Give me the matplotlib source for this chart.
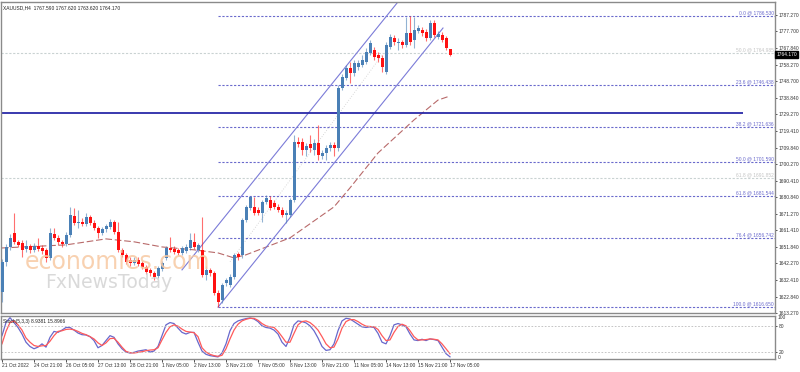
import numpy as np
import matplotlib.pyplot as plt
from matplotlib.transforms import blended_transform_factory

plt.rcParams['font.family'] = ['Liberation Sans Narrow', 'Liberation Sans', 'DejaVu Sans']

# header / symbol info
header_text = 'XAUUSD,H4  1767.590 1767.620 1763.620 1764.170'
stoch_text = 'Stoch(5,3,3) 8.9381 15.8966'
last_price = 1764.170

# H4 candles
opens = [
    1625.6, 1643.1, 1651.8, 1660.0, 1654.8, 1654.2, 1650.7, 1652.4, 1650.1, 1652.4,
    1651.3, 1650.1, 1645.4, 1659.4, 1657.1, 1654.8, 1653.6, 1658.8, 1669.9, 1665.8,
    1666.4, 1665.3, 1669.4, 1665.8, 1662.9, 1660.0, 1662.3, 1663.5, 1666.4, 1660.6,
    1650.1, 1647.2, 1644.2, 1642.5, 1644.2, 1642.5, 1640.2, 1638.4, 1636.7, 1634.9,
    1639.0, 1645.4, 1651.3, 1650.7, 1650.1, 1648.3, 1649.5, 1651.3, 1654.8, 1650.1,
    1650.1, 1635.5, 1638.4, 1636.7, 1625.0, 1620.9, 1630.8, 1629.7, 1634.3, 1647.7,
    1647.2, 1667.6, 1674.6, 1675.2, 1673.4, 1671.7, 1678.1, 1679.3, 1677.5, 1675.2,
    1673.4, 1670.5, 1670.5, 1679.3, 1713.1, 1713.1, 1708.5, 1712.0, 1708.5, 1712.6,
    1705.0, 1706.7, 1709.6, 1711.4, 1709.6, 1744.7, 1750.5, 1756.3, 1753.4, 1756.9,
    1758.1, 1759.8, 1765.1, 1766.8, 1763.9, 1762.2, 1754.0, 1768.6, 1773.9, 1770.9,
    1771.5, 1769.8, 1776.8, 1772.7, 1777.9, 1778.5, 1777.4, 1773.9, 1782.6, 1774.4,
    1775.6, 1773.9, 1767.59]
closes = [
    1643.1, 1651.8, 1657.1, 1654.8, 1653.0, 1650.1, 1652.4, 1650.1, 1652.4, 1650.7,
    1649.5, 1645.4, 1660.0, 1657.1, 1654.8, 1653.6, 1658.8, 1670.5, 1665.8, 1666.4,
    1665.3, 1669.4, 1665.8, 1662.9, 1660.0, 1662.3, 1664.1, 1666.4, 1660.6, 1650.1,
    1647.2, 1643.1, 1642.5, 1644.2, 1641.9, 1640.2, 1637.2, 1636.7, 1634.3, 1639.6,
    1642.5, 1651.3, 1650.1, 1648.9, 1648.3, 1651.3, 1651.8, 1655.9, 1651.8, 1653.0,
    1635.5, 1638.4, 1636.7, 1625.0, 1619.7, 1629.7, 1632.6, 1634.3, 1647.2, 1646.0,
    1667.6, 1675.2, 1681.0, 1671.7, 1671.7, 1678.1, 1680.4, 1674.6, 1675.2, 1673.4,
    1670.5, 1671.7, 1679.3, 1713.1, 1712.0, 1708.5, 1710.8, 1709.6, 1712.6, 1705.5,
    1706.7, 1709.6, 1711.4, 1709.6, 1744.7, 1751.1, 1756.3, 1753.4, 1759.3, 1759.3,
    1761.0, 1765.7, 1770.9, 1762.8, 1762.2, 1756.9, 1769.8, 1774.4, 1771.5, 1771.5,
    1769.8, 1776.8, 1771.5, 1778.5, 1779.7, 1776.8, 1773.9, 1782.6, 1775.6, 1776.2,
    1772.7, 1768.0, 1764.17]
highs = [
    1644.8, 1653.6, 1659.4, 1671.7, 1655.9, 1655.9, 1655.9, 1653.6, 1654.2, 1657.1,
    1653.0, 1651.3, 1662.9, 1662.9, 1658.8, 1655.9, 1660.6, 1675.2, 1674.6, 1673.4,
    1668.8, 1671.7, 1670.5, 1667.6, 1664.1, 1663.5, 1665.3, 1668.2, 1667.6, 1666.4,
    1651.3, 1648.3, 1646.0, 1646.0, 1646.0, 1643.7, 1641.3, 1639.6, 1637.8, 1640.7,
    1643.7, 1652.4, 1657.7, 1652.4, 1651.3, 1652.4, 1653.6, 1660.0, 1660.0, 1654.2,
    1669.4, 1640.7, 1639.6, 1637.8, 1626.7, 1630.8, 1633.7, 1636.1, 1648.3, 1648.9,
    1668.8, 1676.4, 1681.6, 1681.0, 1675.2, 1679.3, 1682.2, 1681.6, 1679.3, 1676.9,
    1675.2, 1673.4, 1680.4, 1717.2, 1716.1, 1715.5, 1712.6, 1717.2, 1714.9, 1723.1,
    1708.5, 1711.4, 1713.1, 1713.1, 1746.4, 1752.8, 1758.1, 1759.8, 1761.0, 1761.0,
    1763.9, 1768.0, 1772.7, 1768.6, 1765.7, 1763.9, 1771.5, 1776.2, 1775.6, 1773.9,
    1772.7, 1786.1, 1786.53, 1786.1, 1781.4, 1780.3, 1779.1, 1784.4, 1784.4, 1777.9,
    1777.4, 1775.0, 1767.62]
lows = [
    1619.7, 1640.7, 1650.1, 1653.6, 1651.8, 1646.0, 1648.9, 1648.3, 1648.9, 1649.5,
    1647.7, 1643.1, 1644.2, 1655.9, 1653.0, 1651.8, 1652.4, 1657.7, 1664.7, 1662.9,
    1664.1, 1664.1, 1664.7, 1661.8, 1657.1, 1658.8, 1660.6, 1662.3, 1659.4, 1648.9,
    1646.0, 1641.9, 1640.7, 1641.3, 1640.7, 1639.0, 1636.1, 1634.9, 1632.6, 1633.7,
    1637.8, 1644.2, 1648.9, 1647.7, 1647.2, 1647.2, 1648.3, 1650.1, 1650.7, 1648.9,
    1634.3, 1632.6, 1634.9, 1623.8, 1616.65, 1619.1, 1629.1, 1628.5, 1633.2, 1644.2,
    1645.4, 1666.4, 1673.4, 1670.5, 1670.5, 1666.4, 1676.9, 1673.4, 1674.0, 1672.3,
    1669.4, 1665.8, 1669.4, 1678.1, 1710.2, 1705.5, 1705.0, 1707.3, 1705.5, 1702.6,
    1703.2, 1702.6, 1707.9, 1705.0, 1707.9, 1743.5, 1749.3, 1747.6, 1751.7, 1755.2,
    1756.9, 1758.7, 1763.9, 1761.0, 1759.8, 1754.0, 1752.8, 1767.4, 1769.8, 1766.8,
    1768.0, 1768.6, 1769.8, 1768.0, 1776.8, 1775.0, 1772.1, 1772.7, 1774.4, 1773.3,
    1771.5, 1766.8, 1763.62]

# moving average (read at a few bars)
ma_bars = [0, 16, 26, 33, 40, 48, 54, 58, 61, 72, 83, 87, 94, 103, 109, 112]
ma_vals = [1651.2, 1653.0, 1656.5, 1654.8, 1651.8, 1650.1, 1648.3, 1645.4, 1647.2,
           1657.1, 1675.2, 1686.3, 1706.7, 1726.0, 1737.6, 1740.0]

# stochastic %K and %D
stoch_k = [
    57.5, 87.5, 98.75, 87.5, 76.25, 61.25, 42.5, 32.75, 27.5, 31.25,
    38.75, 31.25, 53.75, 67.25, 65, 70.25, 76.25, 76.25, 70.25, 63.5,
    59.75, 59, 55.25, 46.25, 29.75, 35, 46.25, 57.5, 53.75, 38.75,
    27.5, 20, 17.75, 19.25, 22.25, 23.75, 25.25, 20, 22.25, 32.75,
    57.5, 82.25, 87.5, 85.25, 74.75, 65, 61.25, 65, 65, 42.5,
    22.25, 14.75, 11.75, 10.25, 8.75, 17.75, 38.75, 68.75, 85.25, 91.25,
    94.25, 96.5, 98, 95.75, 89.75, 80, 76.25, 74.75, 70.25, 61.25,
    42.5, 32.75, 53.75, 82.25, 91.25, 89.75, 86.75, 80, 68.75, 52.25,
    32.75, 23.75, 25.25, 38.75, 68.75, 91.25, 97.25, 95.75, 89.75, 83.75,
    77.75, 76.25, 77.75, 76.25, 62.75, 42.5, 38.75, 57.5, 82.25, 85.25,
    82.25, 77.75, 61.25, 47.75, 46.25, 49.25, 46.25, 50, 48.5, 46.25,
    31.25, 16.25, 8.9381]
stoch_d = [
    38.75, 67.25, 87.5, 91.25, 82.25, 70.25, 52.25, 42.5, 35, 32.75,
    34.25, 35, 44.75, 57.5, 67.25, 68.75, 71.75, 72.5, 71, 67.25,
    62.75, 59.75, 55.25, 50, 41, 35, 41, 50.75, 51.5, 42.5,
    31.25, 21.5, 18.5, 17.75, 19.25, 20.75, 23, 24.5, 25.25, 29.75,
    47.75, 65, 77.75, 82.25, 79.25, 72.5, 67.25, 65.75, 64.25, 55.25,
    29.75, 20, 14.75, 11.75, 10.25, 12.5, 27.5, 50, 70.25, 83.75,
    91.25, 95, 97.25, 97.25, 92.75, 85.25, 80, 77.75, 76.25, 67.25,
    55.25, 42.5, 42.5, 62.75, 82.25, 89.75, 91.25, 87.5, 80, 70.25,
    55.25, 38.75, 29.75, 31.25, 50, 74.75, 89.75, 94.25, 94.25, 89.75,
    83.75, 79.25, 78.5, 77.75, 71.75, 57.5, 46.25, 47.75, 65, 78.5,
    83.75, 80, 68.75, 55.25, 47.75, 47.75, 48.5, 50, 49.25, 47.75,
    38.75, 27.5, 15.8966]

# fibonacci retracement
fib_levels = ['0.0', '23.6', '38.2', '50.0', '61.8', '76.4', '100.0']
fib_prices = [1786.530, 1746.438, 1721.636, 1701.590, 1681.544, 1656.742, 1616.650]
fib_start_bar = 54
old_fib_levels = ['50.0', '61.8']
old_fib_prices = [1764.985, 1691.852]

# other drawn objects
hline_price = 1730.06
hline_end_bar = 185.25
chan_lower_bars = [54, 110.25]
chan_lower_prices = [1616.65, 1779.7]
chan_upper_bars = [45, 100]
chan_upper_prices = [1638.4, 1797.9]
faint_bars = [57, 95]
faint_prices = [1643.1, 1763.9]

price_ticks = [1787.270, 1777.700, 1767.840, 1758.270, 1748.700, 1738.840, 1729.270,
               1719.410, 1709.840, 1700.270, 1690.410, 1680.840, 1671.270, 1661.410,
               1651.840, 1642.270, 1632.410, 1622.840, 1613.270]
time_labels = ['21 Oct 2022', '24 Oct 21:00', '26 Oct 05:00', '27 Oct 13:00', '28 Oct 21:00',
               '1 Nov 05:00', '2 Nov 13:00', '3 Nov 21:00', '7 Nov 05:00', '8 Nov 13:00',
               '9 Nov 21:00', '11 Nov 05:00', '14 Nov 13:00', '15 Nov 21:00', '17 Nov 05:00']
time_label_bars = [0, 8, 16, 24, 32, 40, 48, 56, 64, 72, 80, 88, 96, 104, 112]

BULL = '#4a80b6'
BEAR = '#ff1010'
FIB = '#6a6acc'
FS = 3.5

fig = plt.figure(figsize=(8, 3.72), dpi=100)
ax = fig.add_axes([0.00125, 0.1586, 0.9675, 0.836])
ax2 = fig.add_axes([0.00125, 0.0349, 0.9675, 0.1156])

o = np.array(opens)
c = np.array(closes)
h = np.array(highs)
l = np.array(lows)
x = np.arange(len(o))
up = c >= o
cols = np.where(up, BULL, BEAR)

# candles
ax.vlines(x, l, h, colors=cols, lw=0.8, alpha=0.6, zorder=3)
ax.bar(x, np.maximum(np.abs(c - o), 0.35), bottom=np.minimum(o, c), width=0.75,
       color=cols, linewidth=0, zorder=4)

# moving average
ax.plot(ma_bars, ma_vals, color='#b86a6a', lw=0.8, ls=(0, (6, 2.5)), zorder=2)

# channel
ax.plot(chan_lower_bars, chan_lower_prices, color='#7b7bd8', lw=0.8, zorder=2)
ax.plot(chan_upper_bars, chan_upper_prices, color='#7b7bd8', lw=0.8, zorder=2)
ax.plot(faint_bars, faint_prices, color='#cccccc', lw=0.6, ls=(0, (1, 2)), zorder=1)

# fibonacci lines
for lvl, p in zip(fib_levels, fib_prices):
    ax.hlines(p, fib_start_bar, 193.25, colors=FIB, lw=0.8, linestyles=(0, (2, 1.5)), zorder=1)
    ax.text(192.9, p + 0.4, f'{lvl} @ {p:.3f}', ha='right', va='bottom', fontsize=FS, color=FIB)
for lvl, p in zip(old_fib_levels, old_fib_prices):
    ax.axhline(p, color='#c9d2d2', lw=0.8, ls=(0, (2, 1.5)), zorder=1)
    ax.text(192.9, p + 0.4, f'{lvl} @ {p:.3f}', ha='right', va='bottom', fontsize=FS, color='#c4c4c4')

# horizontal level
ax.hlines(hline_price, -0.25, hline_end_bar, colors='#2a2aa8', lw=1.3, zorder=2)

# watermark
fig.text(0.031, 0.297, 'economies.com', fontsize=17, color='#f7c9a3', alpha=0.85,
         va='center', ha='left', zorder=0, family='DejaVu Sans')
fig.text(0.057, 0.241, 'FxNewsToday', fontsize=13.5, color='#d3d3d3', alpha=0.85,
         va='center', ha='left', zorder=0, family='DejaVu Sans')

ax.set_xlim(-0.25, 193.25)
ax.set_ylim(1613.2, 1794.9)
ax.set_xticks([])
ax.yaxis.tick_right()
ax.set_yticks(price_ticks)
ax.set_yticklabels([f'{t:.3f}' for t in price_ticks])
ax.tick_params(axis='y', labelsize=FS, length=1.5, pad=1.0, width=0.6, colors='#333333')

ax.text(0.003, 0.988, header_text, transform=ax.transAxes, fontsize=FS, va='top',
        ha='left', color='#222222')

tr = blended_transform_factory(ax.transAxes, ax.transData)
ax.text(1.002, last_price, f'{last_price:.3f}', transform=tr, fontsize=FS, va='center',
        ha='left', color='white', zorder=10,
        bbox=dict(facecolor='black', edgecolor='black', pad=0.8))

# stochastic panel
ax2.plot(x, stoch_k, color='#6868cc', lw=0.9)
ax2.plot(x, stoch_d, color='#ff5a5a', lw=0.9)
ax2.axhline(80, color='#bbbbbb', lw=0.6, ls=(0, (2, 2)))
ax2.axhline(20, color='#bbbbbb', lw=0.6, ls=(0, (2, 2)))
ax2.set_xlim(-0.25, 193.25)
ax2.set_ylim(4, 102.5)
ax2.yaxis.tick_right()
ax2.set_yticks([80, 20])
ax2.tick_params(axis='y', labelsize=FS, length=1.5, pad=1.0, width=0.6, colors='#333333')
tr2 = blended_transform_factory(ax2.transAxes, ax2.transData)
ax2.text(1.004, 99.5, '100', transform=tr2, fontsize=FS, va='center', ha='left', color='#333333')
ax2.text(1.004, 7, '0', transform=tr2, fontsize=FS, va='center', ha='left', color='#333333')
ax2.text(0.003, 0.93, stoch_text, transform=ax2.transAxes, fontsize=FS, va='top',
         ha='left', color='#222222')
ax2.set_xticks(time_label_bars)
ax2.set_xticklabels(time_labels, ha='left')
ax2.tick_params(axis='x', labelsize=FS, length=2, pad=1, width=0.6, colors='#333333')

for a in (ax, ax2):
    for s in a.spines.values():
        s.set_color('#8a8a8a')
        s.set_linewidth(1.0)

fig.savefig('out.png', dpi=100, facecolor='white')
